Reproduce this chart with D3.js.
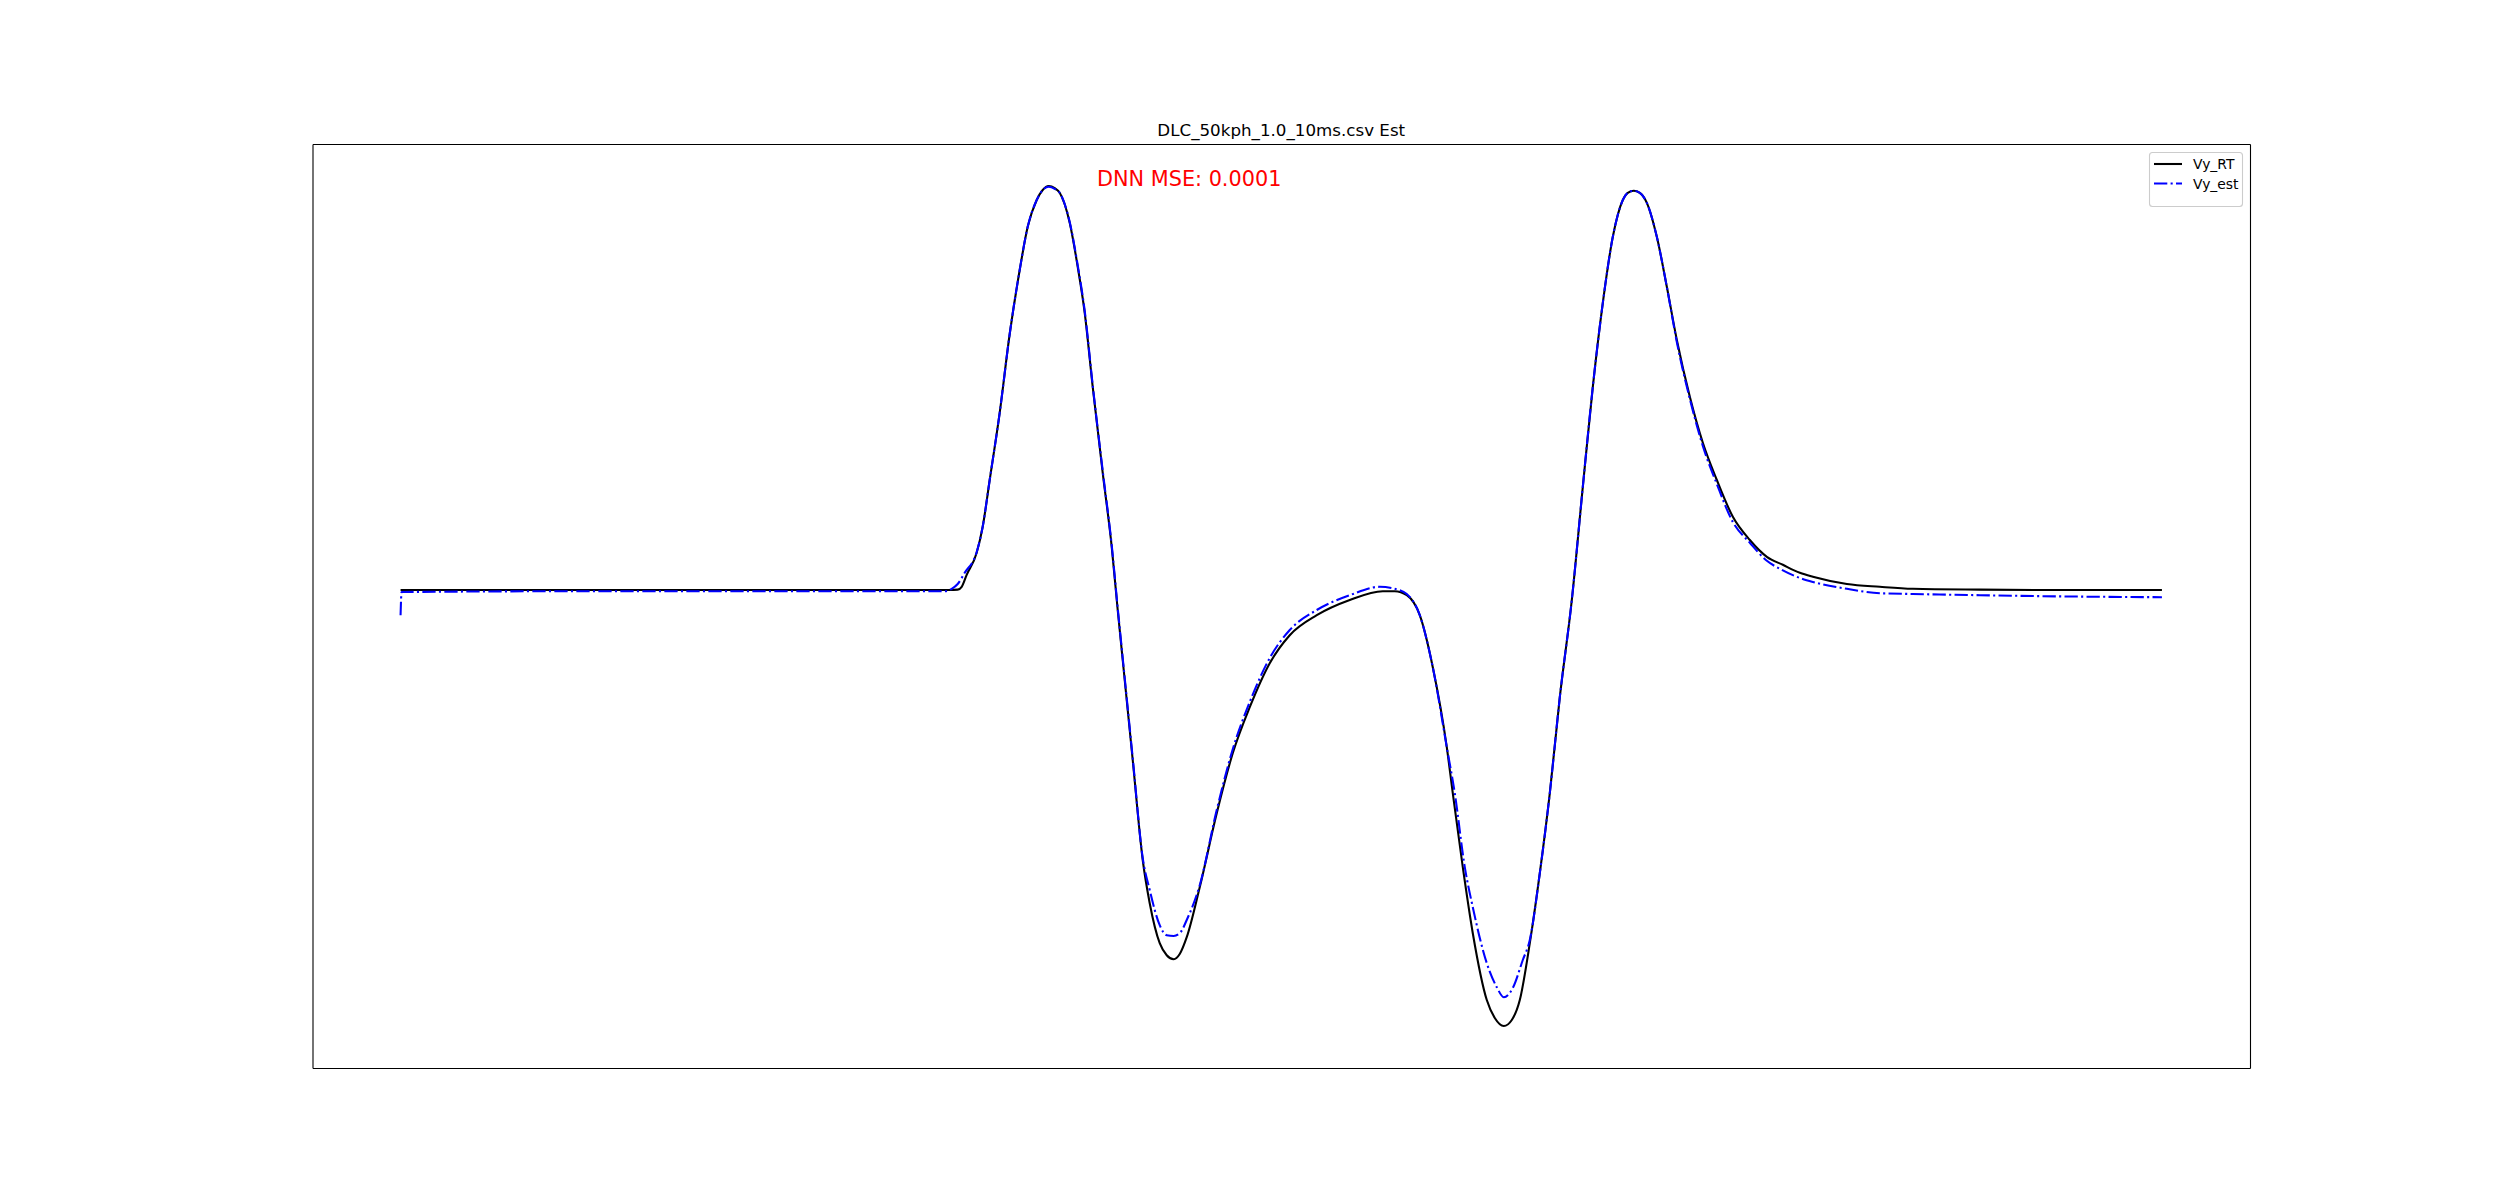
<!DOCTYPE html>
<html><head><meta charset="utf-8">
<script src="https://cdn.jsdelivr.net/npm/d3@7"></script>
<style>body{margin:0;background:#fff}svg{display:block}</style>
</head><body>
<script>
const chartTitle = "DLC_50kph_1.0_10ms.csv Est";
const annotation = "DNN MSE: 0.0001";
const seriesNames = ["Vy_RT", "Vy_est"];

const timeRT = [0,1.99,3.99,5.2,5.40,5.49,5.57,5.61,5.66,5.76,5.82,5.89,5.99,6.09,6.19,6.27,6.36,6.42,6.48,6.54,6.59,6.69,6.77,6.84,6.92,7.02,7.11,7.17,7.22,7.32,7.42,7.49,7.59,7.66,7.73,7.79,7.86,7.99,8.16,8.32,8.49,8.69,8.89,9.16,9.49,9.82,9.94,10.06,10.19,10.32,10.46,10.52,10.62,10.72,10.86,10.94,11.03,11.11,11.19,11.29,11.39,11.49,11.59,11.71,11.82,11.92,12.02,12.12,12.22,12.27,12.33,12.39,12.46,12.56,12.66,12.76,12.89,13.02,13.16,13.32,13.49,13.66,13.82,13.99,14.12,14.46,14.79,15.12,15.79,16.6,17.61];
const vyRT = [0,0,0,0,0,0,0.001,0.008,0.038,0.093,0.158,0.275,0.443,0.640,0.800,0.908,0.975,1.000,1.010,1.005,0.993,0.918,0.808,0.693,0.508,0.293,0.108,-0.050,-0.175,-0.425,-0.675,-0.783,-0.883,-0.913,-0.923,-0.910,-0.868,-0.743,-0.558,-0.408,-0.293,-0.183,-0.113,-0.063,-0.025,-0.003,-0.003,-0.013,-0.063,-0.193,-0.393,-0.508,-0.693,-0.858,-1.025,-1.070,-1.090,-1.075,-1.025,-0.883,-0.708,-0.508,-0.268,-0.025,0.258,0.508,0.718,0.883,0.975,0.993,0.998,0.993,0.968,0.883,0.758,0.625,0.483,0.368,0.275,0.183,0.125,0.083,0.063,0.043,0.033,0.015,0.008,0.003,0.001,0,0];

const timeEst = [0,0.01,1.99,3.99,5.2,5.44,5.51,5.57,5.64,5.76,5.82,5.89,5.99,6.09,6.19,6.27,6.36,6.42,6.48,6.54,6.59,6.69,6.77,6.84,6.92,7.02,7.11,7.17,7.22,7.32,7.42,7.49,7.59,7.66,7.73,7.80,7.86,7.99,8.16,8.32,8.49,8.69,8.89,9.16,9.49,9.79,9.94,10.06,10.19,10.32,10.46,10.54,10.64,10.72,10.86,10.96,11.03,11.12,11.22,11.29,11.39,11.49,11.59,11.71,11.82,11.92,12.02,12.12,12.22,12.27,12.33,12.39,12.46,12.56,12.66,12.76,12.89,13.02,13.16,13.32,13.49,13.66,13.79,13.99,14.12,14.46,14.79,15.12,15.79,16.6,17.61];
const vyEst = [-0.063,-0.005,-0.003,-0.003,-0.003,-0.003,0.003,0.015,0.043,0.095,0.158,0.275,0.443,0.640,0.800,0.908,0.975,1.000,1.008,1.003,0.993,0.920,0.812,0.698,0.512,0.298,0.112,-0.045,-0.170,-0.420,-0.670,-0.750,-0.838,-0.863,-0.865,-0.855,-0.825,-0.738,-0.550,-0.398,-0.280,-0.170,-0.100,-0.050,-0.013,0.008,0.003,-0.010,-0.063,-0.193,-0.393,-0.508,-0.693,-0.793,-0.933,-0.993,-1.018,-0.995,-0.925,-0.875,-0.708,-0.508,-0.268,-0.025,0.258,0.508,0.718,0.883,0.975,0.993,0.998,0.993,0.968,0.883,0.758,0.620,0.478,0.360,0.265,0.170,0.118,0.073,0.053,0.030,0.020,0.003,-0.008,-0.010,-0.013,-0.016,-0.018];

(function(){
const W = 2500, H = 1200;
const mLeft = 312.5, mRight = 2250, mTop = 144, mBottom = 1068;

const svg = d3.select("body").append("svg").attr("width", W).attr("height", H);

const rt = timeRT.map((t,i)=>[t, vyRT[i]]);
const est = timeEst.map((t,i)=>[t, vyEst[i]]);
const all = rt.concat(est);
const xe = d3.extent(all, d=>d[0]), ye = d3.extent(all, d=>d[1]);
const xm = (xe[1]-xe[0])*0.05, ym = (ye[1]-ye[0])*0.05;
const x = d3.scaleLinear().domain([xe[0]-xm, xe[1]+xm]).range([mLeft, mRight]);
const y = d3.scaleLinear().domain([ye[0]-ym, ye[1]+ym]).range([mBottom, mTop]);

const line = d3.line().x(d=>x(d[0])).y(d=>y(d[1])).curve(d3.curveMonotoneX);

svg.append("defs").append("clipPath").attr("id","clip")
  .append("rect").attr("x",mLeft).attr("y",mTop).attr("width",mRight-mLeft).attr("height",mBottom-mTop);

const g = svg.append("g").attr("clip-path","url(#clip)");
g.append("path").datum(rt).attr("d", line).attr("fill","none").attr("stroke","#000").attr("stroke-width",2.08).attr("stroke-linejoin","round");
g.append("path").datum(est).attr("d", line).attr("fill","none").attr("stroke","#0000ff").attr("stroke-width",2.08)
  .attr("stroke-dasharray","13.3,3.3,2.1,3.3");

const spine = sel => sel.select(".domain").attr("stroke","#000").attr("stroke-width",1.1);
svg.append("g").attr("transform",`translate(0,${mBottom})`).call(d3.axisBottom(x).tickValues([]).tickSizeOuter(0)).call(spine);
svg.append("g").attr("transform",`translate(0,${mTop})`).call(d3.axisTop(x).tickValues([]).tickSizeOuter(0)).call(spine);
svg.append("g").attr("transform",`translate(${mLeft},0)`).call(d3.axisLeft(y).tickValues([]).tickSizeOuter(0)).call(spine);
svg.append("g").attr("transform",`translate(${mRight},0)`).call(d3.axisRight(y).tickValues([]).tickSizeOuter(0)).call(spine);

svg.append("text").attr("x",(mLeft+mRight)/2).attr("y",136).attr("text-anchor","middle")
  .attr("font-family","DejaVu Sans").attr("font-size",16.7).attr("fill","#000").text(chartTitle);

svg.append("text").attr("x",1097).attr("y",186)
  .attr("font-family","DejaVu Sans").attr("font-size",20.8).attr("fill","#ff0000").text(annotation);

const lg = svg.append("g");
lg.append("rect").attr("x",2149.5).attr("y",152.5).attr("width",93).attr("height",54).attr("rx",3)
  .attr("fill","#fff").attr("fill-opacity",0.8).attr("stroke","#cccccc").attr("stroke-width",1.1);
const styles = [{c:"#000",d:null},{c:"#0000ff",d:"13.3,3.3,2.1,3.3"}];
seriesNames.forEach((n,i)=>{
  const yy = 164 + i*19.5;
  const l = lg.append("line").attr("x1",2154).attr("x2",2182).attr("y1",yy).attr("y2",yy)
    .attr("stroke",styles[i].c).attr("stroke-width",2.08);
  if (styles[i].d) l.attr("stroke-dasharray",styles[i].d);
  lg.append("text").attr("x",2193).attr("y",yy+5).attr("font-family","DejaVu Sans").attr("font-size",13.9)
    .attr("fill","#000").text(n);
});
})();
</script>
</body></html>
